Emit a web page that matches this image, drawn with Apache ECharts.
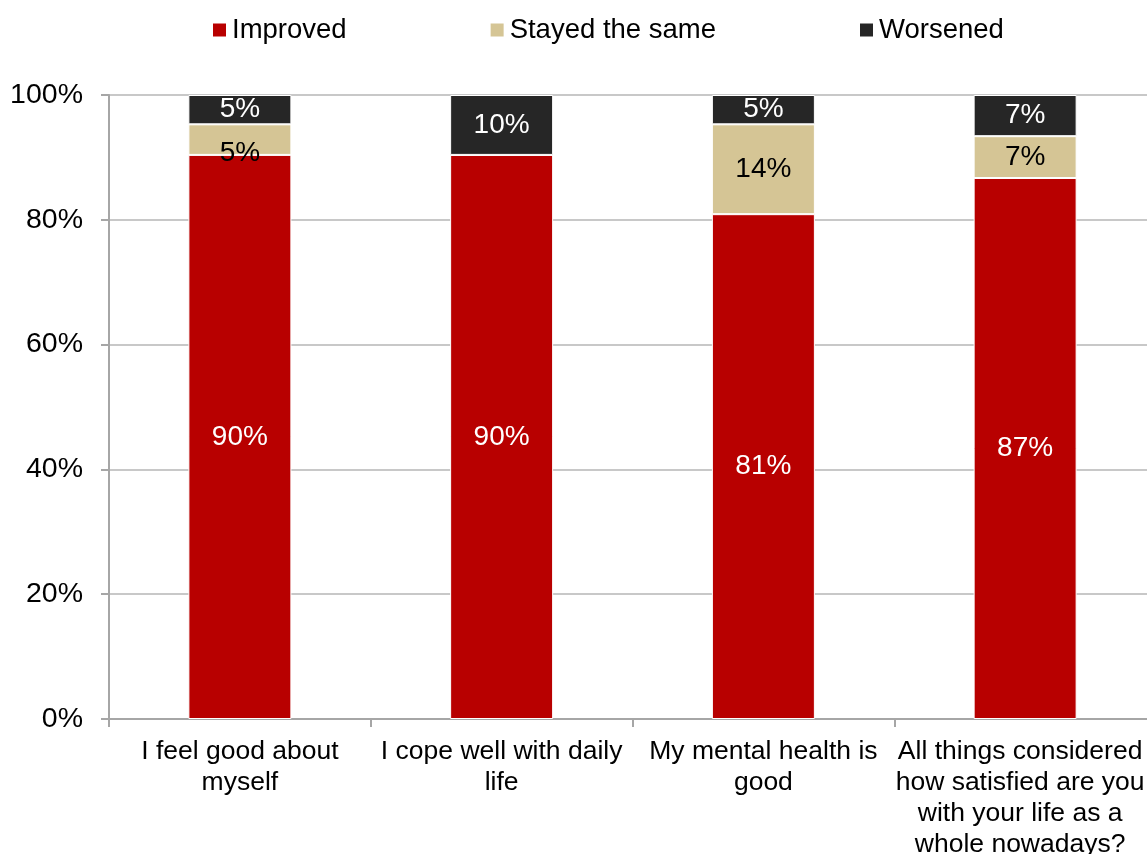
<!DOCTYPE html>
<html>
<head>
<meta charset="utf-8">
<script src="https://cdn.jsdelivr.net/npm/echarts@6/dist/echarts.min.js"></script>
<style>html,body{margin:0;padding:0;background:#fff}#c{width:1147px;height:854px}</style>
</head>
<body>
<div id="c"></div>
<script>
const categories = [
  "I feel good about\nmyself",
  "I cope well with daily\nlife",
  "My mental health is\ngood",
  "All things considered\nhow satisfied are you\nwith your life as a\nwhole nowadays?"
];
const improved = [90.4, 90.4, 80.9, 86.7];
const stayed = [4.9, 0, 14.4, 6.7];
const worsened = [4.7, 9.6, 4.7, 6.6];
const yTicks = [0, 20, 40, 60, 80, 100];

const FONT = "Liberation Sans, Arial, sans-serif";
const chart = echarts.init(document.getElementById('c'), null, {renderer: 'canvas'});

function lbl(color) {
  return {
    show: true,
    position: 'inside',
    color: color,
    fontFamily: FONT,
    fontSize: 28,
    padding: [4, 0, 0, 0],
    formatter: p => (p.value > 0 ? Math.round(p.value) + '%' : '')
  };
}

chart.setOption({
  animation: false,
  textStyle: {fontFamily: FONT},
  legend: {
    top: 11,
    left: 206,
    itemGap: 142,
    itemWidth: 15,
    itemHeight: 15,
    icon: 'rect',
    textStyle: {fontFamily: FONT, fontSize: 27.5, color: '#000'},
    data: ['Improved', 'Stayed the same', 'Worsened']
  },
  grid: {left: 109, right: -9, top: 95, bottom: 135, containLabel: false, outerBoundsMode: 'none'},
  xAxis: {
    type: 'category',
    data: categories,
    axisLine: {lineStyle: {color: '#A6A6A6', width: 2}},
    axisTick: {show: true, length: 8, alignWithLabel: false, lineStyle: {color: '#A6A6A6', width: 2}},
    axisLabel: {
      interval: 0,
      margin: 17,
      color: '#000',
      fontFamily: FONT,
      fontSize: 26.5,
      lineHeight: 31,
      formatter: (v, i) => (i === categories.length - 1 ? '{s|' + v.split('\n').join('}\n{s|') + '}' : v),
      rich: {
        s: {fontFamily: FONT, fontSize: 26.5, lineHeight: 31, color: '#000', padding: [0, 10, 0, 0]}
      }
    }
  },
  yAxis: {
    type: 'value',
    min: yTicks[0],
    max: yTicks[yTicks.length - 1],
    interval: 20,
    axisLine: {show: true, lineStyle: {color: '#A6A6A6', width: 2}},
    axisTick: {show: true, length: 8, lineStyle: {color: '#A6A6A6', width: 2}},
    splitLine: {lineStyle: {color: '#C8C8C8', width: 2}},
    axisLabel: {
      formatter: v => v + '%',
      margin: 26,
      color: '#000',
      fontFamily: FONT,
      fontSize: 28.5,
      padding: [4, 0, 0, 0]
    }
  },
  series: [
    {
      name: 'Improved', type: 'bar', stack: 't', barWidth: 103,
      data: improved,
      itemStyle: {color: '#B80000', borderColor: '#fff', borderWidth: 1},
      label: lbl('#fff')
    },
    {
      name: 'Stayed the same', type: 'bar', stack: 't', barWidth: 103,
      data: stayed.map((v, i) => i === 0 ? {value: v, label: {offset: [0, 14]}} : v),
      itemStyle: {color: '#D5C595', borderColor: '#fff', borderWidth: 1},
      label: lbl('#000')
    },
    {
      name: 'Worsened', type: 'bar', stack: 't', barWidth: 103,
      data: worsened,
      itemStyle: {color: '#262626', borderColor: '#fff', borderWidth: 1},
      label: lbl('#fff')
    }
  ]
});
</script>
</body>
</html>
